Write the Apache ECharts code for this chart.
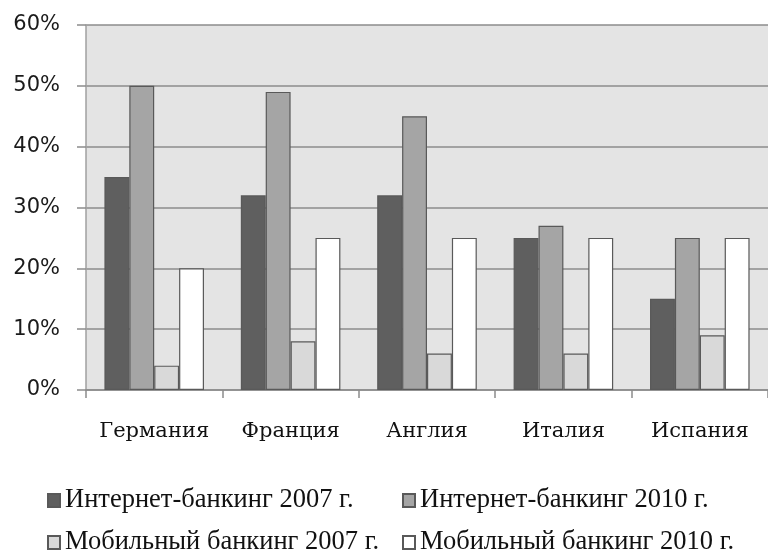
<!DOCTYPE html>
<html><head><meta charset="utf-8">
<script src="https://cdn.jsdelivr.net/npm/echarts@6/dist/echarts.min.js"></script>
<style>html,body{margin:0;padding:0;background:#fff}#c{width:768px;height:558px}</style>
</head><body><div id="c"></div>
<script>
const categories = ['Германия', 'Франция', 'Англия', 'Италия', 'Испания'];
const seriesNames = ['Интернет-банкинг 2007 г.', 'Интернет-банкинг 2010 г.', 'Мобильный банкинг 2007 г.', 'Мобильный банкинг 2010 г.'];
const internet2007 = [35, 32, 32, 25, 15];
const internet2010 = [50, 49, 45, 27, 25];
const mobile2007 = [4, 8, 6, 6, 9];
const mobile2010 = [20, 25, 25, 25, 25];
const yTicks = [0, 10, 20, 30, 40, 50, 60];

const colors = ['#5f5f5f', '#a5a5a5', '#d9d9d9', '#ffffff'];
const values = [internet2007, internet2010, mobile2007, mobile2010];
const chart = echarts.init(document.getElementById('c'));
const legendPos = [[47, 487], [402, 487], [47, 529], [402, 529]];
chart.setOption({
  animation: false,
  grid: {left: 86, top: 25, bottom: 168, right: -2, show: true, backgroundColor: '#e4e4e4', borderWidth: 0},
  legend: seriesNames.map((n, i) => ({
    data: [n], left: legendPos[i][0], top: legendPos[i][1], padding: 0,
    icon: 'rect', itemWidth: 12, itemHeight: 13, itemGap: 0,
    textStyle: {fontFamily: 'Liberation Serif', fontSize: 26.5, color: '#111', padding: [0, 0, 0, 0]},
    selectedMode: false
  })),
  xAxis: {
    type: 'category', data: categories,
    axisLine: {lineStyle: {color: '#8c8c8c', width: 1.5}},
    axisTick: {show: true, interval: 0, length: 8, lineStyle: {color: '#8c8c8c', width: 1.5}},
    axisLabel: {interval: 0, fontFamily: 'DejaVu Serif', fontSize: 21, color: '#111', margin: 31}
  },
  yAxis: {
    type: 'value', min: yTicks[0], max: yTicks[yTicks.length - 1], interval: 10,
    axisLine: {show: true, lineStyle: {color: '#a0a0a0', width: 1.5}},
    axisTick: {show: true, length: 9, lineStyle: {color: '#8c8c8c', width: 1.5}},
    splitLine: {lineStyle: {color: '#8c8c8c', width: 1.5}},
    axisLabel: {formatter: '{value}%', fontFamily: 'DejaVu Sans', fontSize: 21, color: '#1a1a1a', margin: 26}
  },
  series: values.map((v, i) => ({
    name: seriesNames[i], type: 'bar', data: v,
    barGap: '0%', barCategoryGap: '27%',
    itemStyle: {color: colors[i], borderColor: '#595959', borderWidth: 1.2}
  }))
});
</script></body></html>
